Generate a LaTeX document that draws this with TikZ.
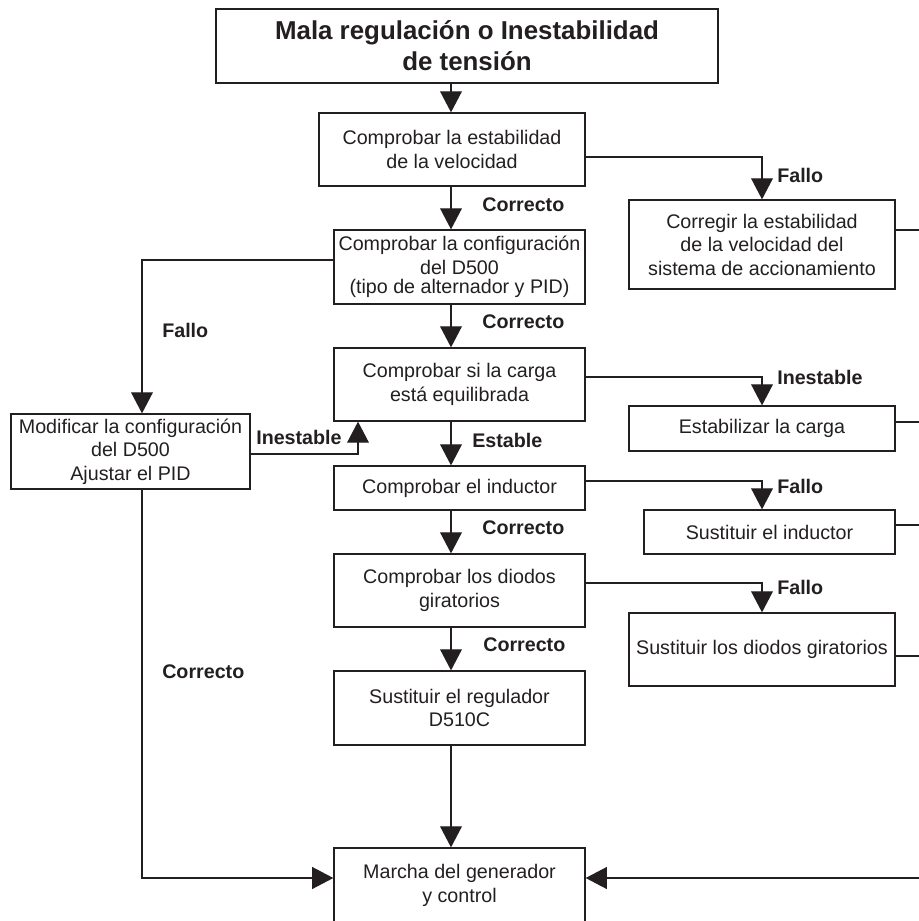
\documentclass[tikz,border=0pt]{standalone}
\usepackage{fontspec}
\setmainfont{Liberation Sans}
\usetikzlibrary{arrows.meta}
\definecolor{ink}{HTML}{231F20}

\begin{document}
\begin{tikzpicture}[x=0.025cm, y=-0.025cm,
  box/.style={draw=ink, line width=0.9pt, inner sep=0pt, align=center, text=ink,
    font=\fontsize{14pt}{16.7pt}\selectfont},
  lbl/.style={anchor=west, inner sep=0pt, text=ink,
    font=\fontsize{14pt}{16.7pt}\selectfont\bfseries},
  link/.style={draw=ink, line width=0.9pt},
  flow/.style={link, -{Triangle[length=15pt,width=15.5pt]}}]

\useasboundingbox (0,0) rectangle (919,921);

% ---- guide lines for the connectors ----------------------------------------
\coordinate (spine) at (451,0);
\coordinate (side)  at (762,0);
\coordinate (lft)   at (142,0);
\coordinate (up)    at (358,0);
\coordinate (edge)  at (919,0);

% ---- boxes -----------------------------------------------------------------
\node[box, line width=1.8pt, minimum width=12.55cm, minimum height=1.85cm,
  font=\fontsize{18.4pt}{22pt}\selectfont\bfseries] (title) at (467,46)
  {Mala regulación o Inestabilidad\\de tensión};

\node[box, minimum width=6.65cm, minimum height=1.825cm] (chkspeed) at (452,149.5)
  {Comprobar la estabilidad\\de la velocidad};
\node[box, minimum width=6.275cm, minimum height=1.85cm] (chkcfg) at (459.5,267)
  {Comprobar la configuración\\del D500\\[-3pt](tipo de alternador y PID)};
\node[box, minimum width=6.275cm, minimum height=1.825cm] (chkload) at (459.5,384.5)
  {Comprobar si la carga\\está equilibrada};
\node[box, minimum width=6.275cm, minimum height=1.1cm] (chkexc) at (459.5,488)
  {Comprobar el inductor};
\node[box, minimum width=6.275cm, minimum height=1.825cm] (chkdiode) at (459.5,590.5)
  {Comprobar los diodos\\giratorios};
\node[box, minimum width=6.275cm, minimum height=1.85cm] (repreg) at (459.5,708)
  {Sustituir el regulador\\D510C};
\node[box, minimum width=6.275cm, minimum height=1.875cm] (run) at (459.5,885.5)
  {Marcha del generador\\y control};

\node[box, minimum width=6.65cm, minimum height=2.225cm] (fixspeed) at (762,244.5)
  {Corregir la estabilidad\\de la velocidad del\\sistema de accionamiento};
\node[box, minimum width=6.65cm, minimum height=1.125cm] (balload) at (762,428.5)
  {Estabilizar la carga};
\node[box, minimum width=6.275cm, minimum height=1.1cm] (repexc) at (769.5,532)
  {Sustituir el inductor};
\node[box, minimum width=6.65cm, minimum height=1.825cm] (repdiode) at (762,649.5)
  {Sustituir los diodos giratorios};

\node[box, minimum width=5.975cm, minimum height=1.875cm] (modcfg) at (130.5,451.5)
  {Modificar la configuración\\del D500\\Ajustar el PID};

% ---- main column -----------------------------------------------------------
\draw[flow] (title.south -| spine) -- (chkspeed.north -| spine);
\draw[flow] (chkspeed.south -| spine) -- (chkcfg.north -| spine);
\draw[flow] (chkcfg.south -| spine) -- (chkload.north -| spine);
\draw[flow] (chkload.south -| spine) -- (chkexc.north -| spine);
\draw[flow] (chkexc.south -| spine) -- (chkdiode.north -| spine);
\draw[flow] (chkdiode.south -| spine) -- (repreg.north -| spine);
\draw[flow] (repreg.south -| spine) -- (run.north -| spine);

\node[lbl] (l1) at (482,205) {Correcto};
\node[lbl] (l2) at (482,322) {Correcto};
\node[lbl] (l3) at (472,440) {Estable};
\node[lbl] (l4) at (482,528) {Correcto};
\node[lbl] (l5) at (483,645) {Correcto};

% ---- faults to the right ---------------------------------------------------
\draw[flow] (chkspeed.east |- 0,157) -| (fixspeed.north -| side);
\draw[flow] (chkload.east |- 0,377) -| (balload.north -| side);
\draw[flow] (chkexc.east |- 0,481) -| (repexc.north -| side);
\draw[flow] (chkdiode.east |- 0,583) -| (repdiode.north -| side);

\node[lbl] (r1) at (777,175) {Fallo};
\node[lbl] (r2) at (777,377) {Inestable};
\node[lbl] (r3) at (777,486) {Fallo};
\node[lbl] (r4) at (777,587) {Fallo};

\draw[link] (fixspeed.east |- 0,230) -- (edge |- 0,230);
\draw[link] (balload.east |- 0,422) -- (edge |- 0,422);
\draw[link] (repexc.east |- 0,525) -- (edge |- 0,525);
\draw[link] (repdiode.east |- 0,656) -- (edge |- 0,656);
\draw[flow] (edge |- 0,878) -- (run.east |- 0,878);

% ---- configuration loop on the left ----------------------------------------
\draw[flow] (chkcfg.west |- 0,260) -| (modcfg.north -| lft);
\draw[flow] (modcfg.east |- 0,454) -| (chkload.south -| up);
\draw[flow] (modcfg.south -| lft) |- (run.west |- 0,878);

\node[lbl] (f1) at (162,330) {Fallo};
\node[lbl] (f2) at (256,437) {Inestable};
\node[lbl] (f3) at (162,672) {Correcto};

\end{tikzpicture}
\end{document}
